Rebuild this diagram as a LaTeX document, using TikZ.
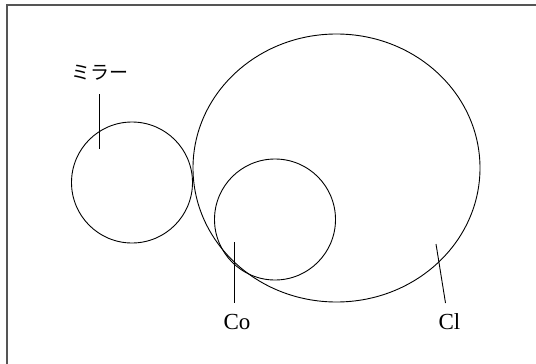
\documentclass[tikz,border=0pt]{standalone}
\usepackage{fontspec}
\setmainfont{Liberation Serif}
\newfontfamily\jpfont{Noto Sans CJK JP}
\usetikzlibrary{positioning,calc}
\definecolor{frame}{HTML}{555555}

\tikzset{
  ring/.style={draw=black,line width=0.9pt},
  leader/.style={draw=black,line width=0.9pt},
  tag/.style={inner sep=0pt,font=\fontsize{23}{23}\selectfont}
}

\begin{document}
\begin{tikzpicture}[x=1pt,y=-1pt]
  \def\rr{60.5}
  \useasboundingbox (0,0) rectangle (536,364);

  % frame
  \draw[frame,line width=1.6pt] (7,364) -- (7,5) -- (536,5);

  % circles
  \draw[ring] (132,182.5) circle (\rr);
  \draw[ring] (275,219.5) circle (\rr);
  \draw[ring] (336.5,168) ellipse (143.5 and 134);

  % labels
  \node[tag,font=\jpfont\fontsize{19}{19}\selectfont] (mirror) at (100,73) {ミラー};
  \node[tag] (co) at (237,322) {Co};
  \node[tag] (cl) at (449.5,322) {Cl};

  % leaders
  \coordinate (mirrortop) at (99,94);
  \coordinate (mirrorend) at (99,149);
  \coordinate (cotop) at (234.5,242);
  \coordinate (coend) at (234.5,303);
  \coordinate (cltop) at (436,244);
  \coordinate (clend) at (445.5,303);
  \draw[leader] (mirrortop) -- (mirrorend);
  \draw[leader] (cotop) -- (coend);
  \draw[leader] (cltop) -- (clend);
\end{tikzpicture}
\end{document}
